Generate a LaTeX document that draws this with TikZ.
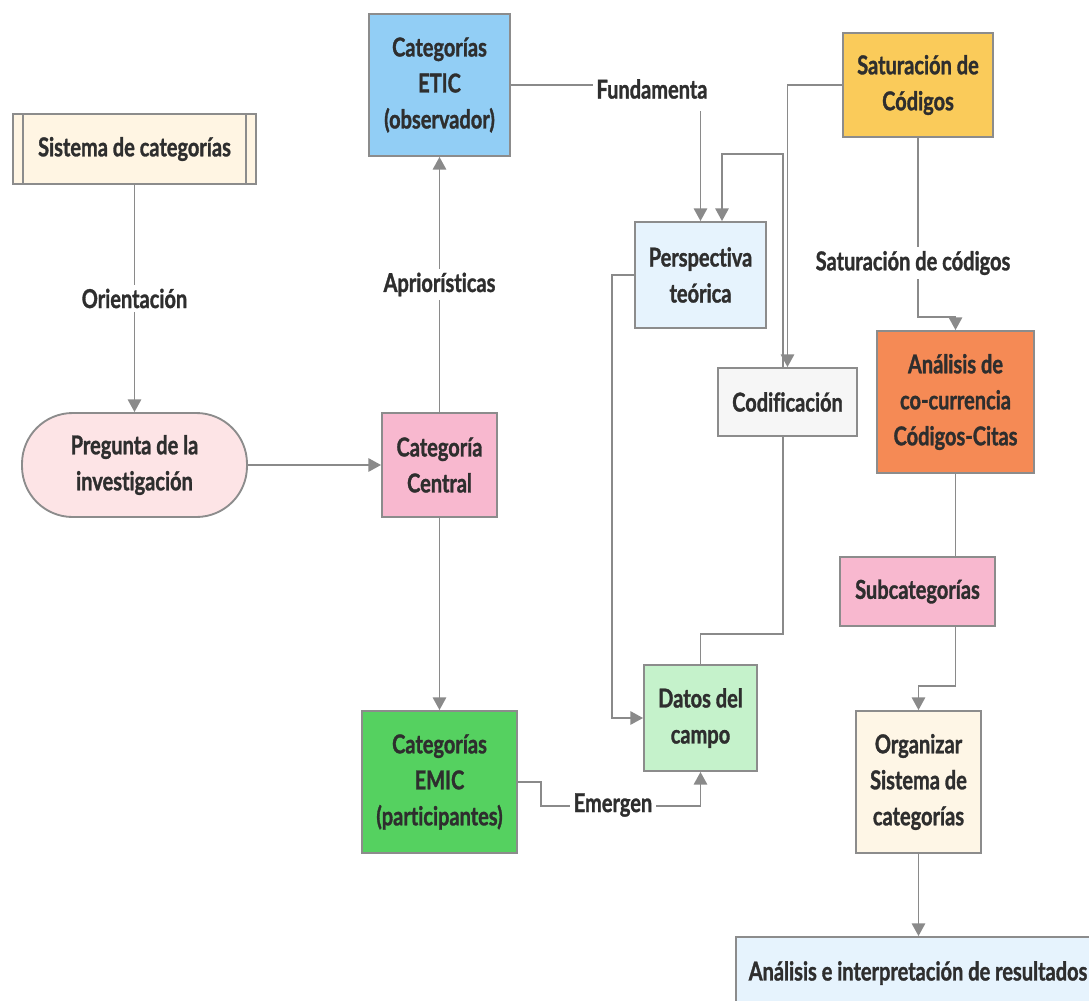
\documentclass[tikz,border=0pt]{standalone}
\usepackage{fontspec}
\setmainfont{Lato}[FakeStretch=0.77, Ligatures=NoCommon, BoldFeatures={FakeBold=1.2}]
\usetikzlibrary{arrows.meta,calc}

\definecolor{linegray}{HTML}{8A8A8A}
\definecolor{boxline}{HTML}{8C8C8C}
\definecolor{ink}{HTML}{2E2E2E}
\definecolor{cream}{HTML}{FFF5E3}
\definecolor{lightpink}{HTML}{FDE4E6}
\definecolor{pink}{HTML}{F8B8CF}
\definecolor{skyblue}{HTML}{92CEF5}
\definecolor{green}{HTML}{55D160}
\definecolor{paleblue}{HTML}{E6F3FD}
\definecolor{lightgray}{HTML}{F6F6F6}
\definecolor{palegreen}{HTML}{C5F2CB}
\definecolor{yellow}{HTML}{FACB5A}
\definecolor{orange}{HTML}{F58A55}
\definecolor{ivory}{HTML}{FEF6E6}

\begin{document}
\begin{tikzpicture}[x=0.75pt,y=-0.75pt,
  every node/.style={font=\fontsize{19.5}{27}\selectfont\bfseries, text=ink},
  box/.style={draw=boxline, line width=1.4pt, align=center, inner sep=2pt},
  lbl/.style={fill=white, inner sep=3pt},
  conn/.style={draw=linegray, line width=1.4pt},
  arr/.style={conn, -{Triangle[width=10pt,length=9.5pt]}}]

\useasboundingbox (0,0) rectangle (1089,1000);
\clip (0,0) rectangle (1089,1000);

% boxes
\node[box, fill=cream, minimum width=182.25pt, minimum height=52.5pt] (sis) at (134.5,149) {Sistema de categorías};
\draw[boxline, line width=1.4pt] ($(sis.north west)+(11,0)$) -- ($(sis.south west)+(11,0)$);
\draw[boxline, line width=1.4pt] ($(sis.north east)+(-11,0)$) -- ($(sis.south east)+(-11,0)$);

\node[box, fill=lightpink, rounded corners=38pt, minimum width=168.75pt, minimum height=78pt] (preg) at (134.5,465) {Pregunta de la\\investigación};
\node[box, fill=pink, minimum width=86.25pt, minimum height=78pt] (cen) at (439.5,465) {Categoría\\Central};
\node[box, fill=skyblue, minimum width=105.75pt, minimum height=106.5pt] (etic) at (439.5,85) {Categorías\\ETIC\\(observador)};
\node[box, fill=green, minimum width=116.25pt, minimum height=106.5pt] (emic) at (439.5,782) {Categorías\\EMIC\\(participantes)};
\node[box, fill=paleblue, minimum width=98.25pt, minimum height=79.5pt] (persp) at (700.5,275) {Perspectiva\\teórica};
\node[box, fill=lightgray, minimum width=104.25pt, minimum height=51pt] (cod) at (787.5,402) {Codificación};
\node[box, fill=palegreen, minimum width=84.75pt, minimum height=79.5pt] (datos) at (700.5,718) {Datos del\\campo};
\node[box, fill=yellow, minimum width=112.5pt, minimum height=78pt] (satur) at (918,85) {Saturación de\\Códigos};
\node[box, fill=orange, minimum width=117.75pt, minimum height=106.5pt] (anal) at (955.5,402) {Análisis de\\co-currencia\\Códigos-Citas};
\node[box, fill=pink, minimum width=116.25pt, minimum height=51.75pt] (sub) at (917.5,591.5) {Subcategorías};
\node[box, fill=ivory, minimum width=93.75pt, minimum height=106.5pt] (org) at (918.5,782) {Organizar\\Sistema de\\categorías};
\node[box, fill=paleblue, minimum width=273pt, minimum height=54.75pt] (res) at (918,973.5) {};
\node at (918,973) {Análisis e interpretación de resultados};

% connectors
\draw[arr] (sis.south) -- node[lbl] {Orientación} (preg.north);
\draw[arr] (preg.east) -- (cen.west);
\draw[arr] (cen.north) -- node[lbl] {Apriorísticas} (etic.south);
\draw[arr] (cen.south) -- (emic.north);

\draw[arr] (etic.east) -| (persp.north);
\node[lbl, minimum height=33pt] (fund) at (652,89) {Fundamenta};

\draw[arr] (satur.west) -| (cod.north);
\draw[arr] ($(cod.north)+(-4.5,0)$) |- ($(persp.north)+(21.5,-67)$) -- ($(persp.north)+(21.5,0)$);
\draw[arr] (persp.west) -- ++(-22,0) |- (datos.west);
\draw[conn] (datos.north) |- ($(cod.south)+(-4.5,197)$) -- ($(cod.south)+(-4.5,0)$);

\draw[arr] (emic.east) -- ++(23,0) |- ($(datos.south)+(0,34)$) -- (datos.south);
\node[lbl] (emer) at (613,805) {Emergen};

\draw[arr] (satur.south) -- ++(0,179) -| (anal.north);
\node[lbl] (satlbl) at (913,263) {Saturación de códigos};

\draw[conn] (anal.south) -- (anal.south |- sub.north);
\draw[arr] (anal.south |- sub.south) -- ++(0,59) -| (org.north);
\draw[arr] (org.south) -- (org.south |- res.north);
\end{tikzpicture}
\end{document}
